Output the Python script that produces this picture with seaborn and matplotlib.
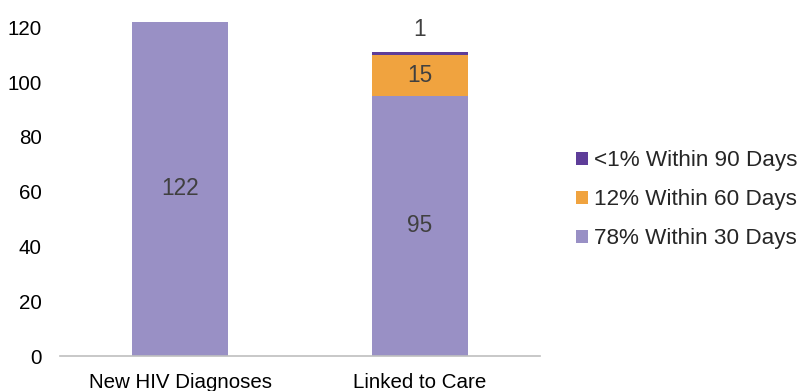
import matplotlib
matplotlib.use("Agg")
import matplotlib.pyplot as plt
import seaborn as sns
import numpy as np
from matplotlib.patches import Patch

categories = ["New HIV Diagnoses", "Linked to Care"]
within30 = [122, 95]
within60 = [0, 15]
within90 = [0, 1]
series_labels = ["78% Within 30 Days", "12% Within 60 Days", "<1% Within 90 Days"]
colors = ["#9990C5", "#F0A33F", "#5E3D99"]

sns.set_theme(style="white")
plt.rcParams["font.family"] = ["Liberation Sans", "DejaVu Sans"]

fig = plt.figure(figsize=(8.07, 3.91), dpi=100)
ax = fig.add_axes([0.0744, 0.0895, 0.5946, 0.9105])

c30 = np.array(within30)
c60 = c30 + np.array(within60)
c90 = c60 + np.array(within90)

# draw cumulative totals, largest first
sns.barplot(x=categories, y=c90, color=colors[2], width=0.4, ax=ax, saturation=1, linewidth=0)
sns.barplot(x=categories, y=c60, color=colors[1], width=0.4, ax=ax, saturation=1, linewidth=0)
sns.barplot(x=categories, y=c30, color=colors[0], width=0.4, ax=ax, saturation=1, linewidth=0)

ax.set_xlim(-0.5, 1.5)
ax.set_ylim(0, 130)
ax.set_yticks([0, 20, 40, 60, 80, 100, 120])
ax.tick_params(axis="both", length=0, labelsize=14.8, colors="#000000")
ax.tick_params(axis="y", pad=13)
ax.tick_params(axis="x", pad=12)
for s in ["top", "right", "left"]:
    ax.spines[s].set_visible(False)
ax.spines["bottom"].set_color("#BFBFBF")
ax.spines["bottom"].set_linewidth(1.2)
ax.grid(False)

txt = "#404040"
fs = 16.3
for i in range(len(categories)):
    if within30[i]:
        ax.text(i, within30[i] / 2, str(within30[i]), ha="center", va="center", fontsize=fs, color=txt)
    if within60[i]:
        ax.text(i, c30[i] + within60[i] / 2, str(within60[i]), ha="center", va="center", fontsize=fs, color=txt)
    if within90[i]:
        ax.annotate(str(within90[i]), (i, c90[i]), xytext=(0, 8), textcoords="offset points",
                    ha="center", va="bottom", fontsize=fs, color=txt)

handles = [Patch(facecolor=colors[k], edgecolor="none", label=series_labels[k]) for k in [2, 1, 0]]
fig.legend(handles=handles, loc="center left", bbox_to_anchor=(0.703, 0.489), frameon=False,
           fontsize=16.2, handlelength=0.5, handleheight=0.5, handletextpad=0.3, labelspacing=0.8,
           borderaxespad=0)

fig.savefig("out.png", dpi=100)
